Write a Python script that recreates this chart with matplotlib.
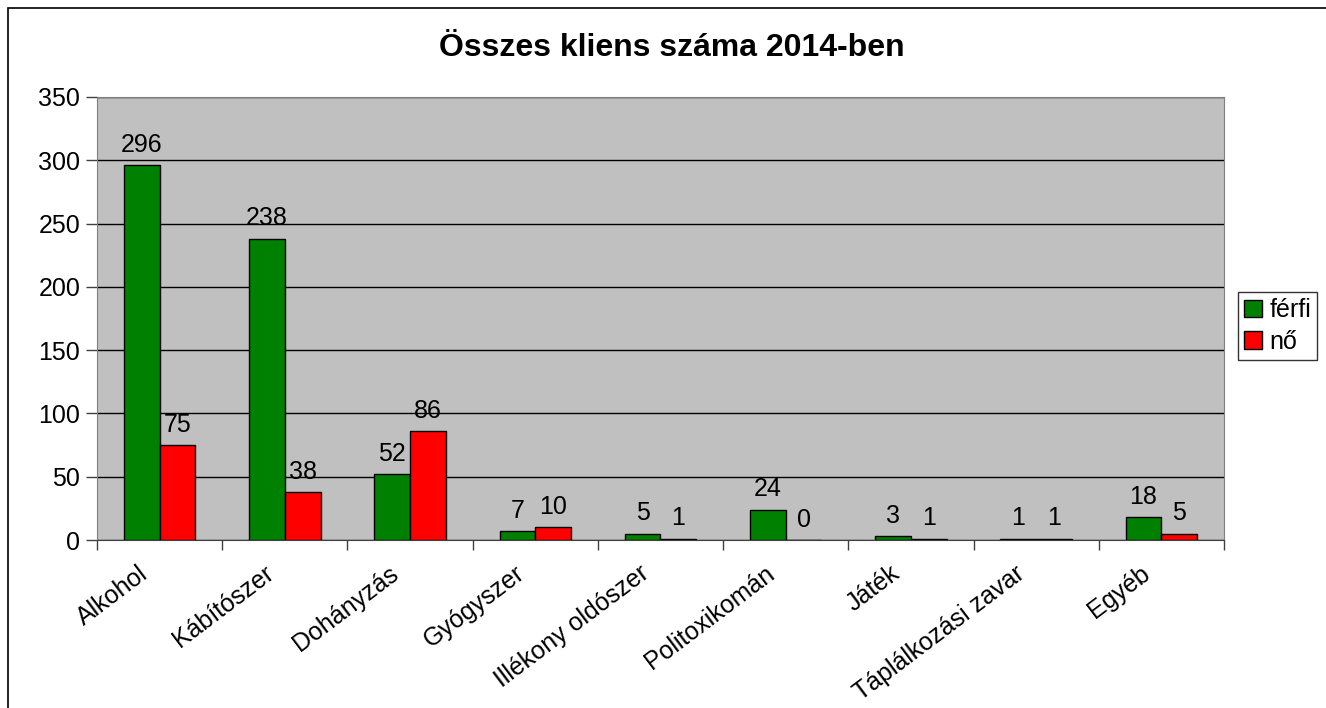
import numpy as np
import matplotlib
matplotlib.use("Agg")
import matplotlib.pyplot as plt
from matplotlib.patches import Rectangle
from matplotlib.transforms import ScaledTranslation

categories = ["Alkohol", "Kábítószer", "Dohányzás", "Gyógyszer", "Illékony oldószer",
              "Politoxikomán", "Játék", "Táplálkozási zavar", "Egyéb"]
ferfi = [296, 238, 52, 7, 5, 24, 3, 1, 18]
no = [75, 38, 86, 10, 1, 0, 1, 1, 5]
series_names = ["férfi", "nő"]
y_ticks = [0, 50, 100, 150, 200, 250, 300, 350]

plt.rcParams['font.family'] = ['Liberation Sans', 'DejaVu Sans']

fig = plt.figure(figsize=(13.26, 7.08), dpi=100)
# outer chart border
fig.patches.append(Rectangle((8 / 1326, -0.01), 1.02, 1 - 8 / 708 + 0.01, transform=fig.transFigure,
                             fill=False, edgecolor='black', linewidth=1.2))

ax = fig.add_axes([97 / 1326, 1 - 540 / 708, (1224 - 97) / 1326, (540 - 97) / 708])
ax.set_facecolor('#C0C0C0')

x = np.arange(len(categories))
w = 1 / 3.5
b1 = ax.bar(x - w / 2, ferfi, w, color='#008000', edgecolor='black', linewidth=1, label=series_names[0])
b2 = ax.bar(x + w / 2, no, w, color='#FF0000', edgecolor='black', linewidth=1, label=series_names[1])

for bars, vals in [(b1, ferfi), (b2, no)]:
    for r, v in zip(bars, vals):
        ax.annotate(str(v), (r.get_x() + r.get_width() / 2, v), xytext=(0, 6),
                    textcoords='offset points', ha='center', va='bottom', fontsize=18)

ax.set_xlim(-0.5, len(categories) - 0.5)
ax.set_ylim(0, 350)
ax.set_yticks(y_ticks)
ax.tick_params(axis='y', labelsize=18, length=8, width=1, color='#404040', pad=4)
ax.yaxis.grid(True, color='black', linewidth=1)
ax.set_axisbelow(True)

ax.set_xticks(np.arange(len(categories) + 1) - 0.5)
ax.set_xticklabels([])
ax.tick_params(axis='x', which='major', length=7, width=1, color='#404040')

# rotated category labels, anchored a little left of and below each category centre
shift = ScaledTranslation(-14 / 100, -31 / 100, fig.dpi_scale_trans)
for xi, cat in zip(x, categories):
    ax.text(xi, 0, cat, transform=ax.get_xaxis_transform() + shift, rotation=37,
            ha='right', va='center', rotation_mode='anchor', fontsize=18)

for s in ax.spines.values():
    s.set_color('#808080')
ax.spines['bottom'].set_color('#404040')

fig.text(672 / 1326, 1 - 48 / 708, "Összes kliens száma 2014-ben", ha='center', va='center',
         fontsize=23, fontweight='bold')

leg = ax.legend(loc='center left', bbox_to_anchor=(1238 / 1326, 1 - 326 / 708),
                bbox_transform=fig.transFigure, fontsize=18, frameon=True, fancybox=False,
                handlelength=0.7, handleheight=0.7, handletextpad=0.3, borderpad=0.25,
                labelspacing=0.3, borderaxespad=0)
leg.get_frame().set_edgecolor('black')
leg.get_frame().set_linewidth(1)

fig.savefig("out.png", dpi=100)
